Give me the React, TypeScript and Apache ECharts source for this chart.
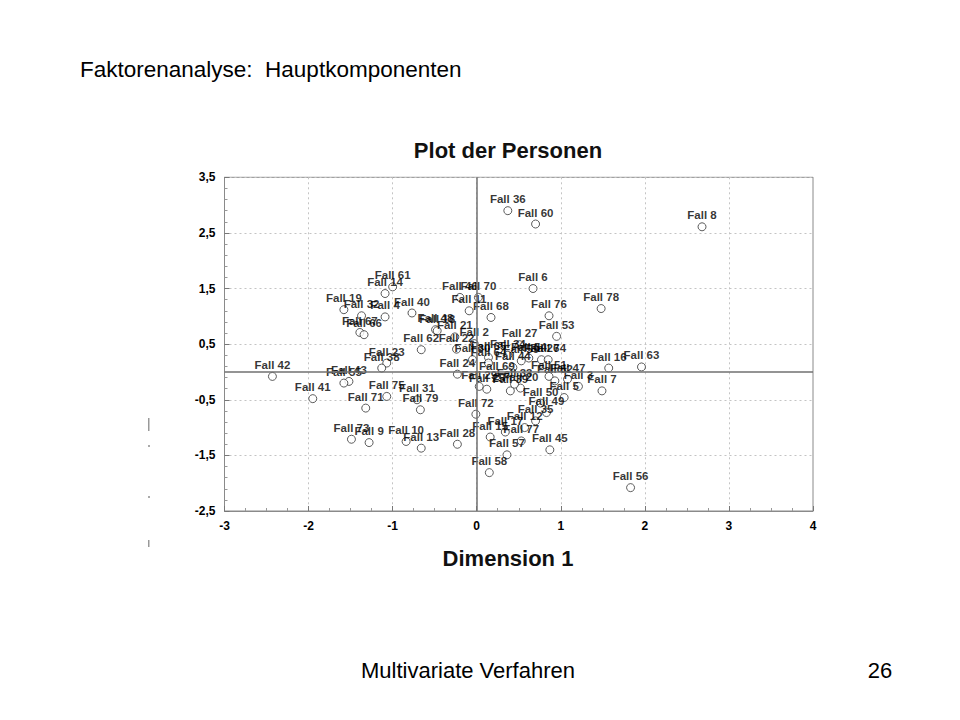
import React, { useEffect, useRef } from "react";
import * as echarts from "echarts";

const caseNames = [
  "Fall 36", "Fall 60", "Fall 8", "Fall 6", "Fall 78", "Fall 76", "Fall 68", "Fall 53", "Fall 27", "Fall 16",
  "Fall 63", "Fall 46", "Fall 70", "Fall 11", "Fall 61", "Fall 14", "Fall 19", "Fall 32", "Fall 4", "Fall 40",
  "Fall 67", "Fall 66", "Fall 48", "Fall 18", "Fall 21", "Fall 2", "Fall 62", "Fall 22", "Fall 23", "Fall 38",
  "Fall 42", "Fall 41", "Fall 43", "Fall 55", "Fall 71", "Fall 75", "Fall 31", "Fall 79", "Fall 73", "Fall 9",
  "Fall 10", "Fall 13", "Fall 28", "Fall 24", "Fall 72", "Fall 58", "Fall 15", "Fall 57", "Fall 77", "Fall 45",
  "Fall 56", "Fall 65", "Fall 64", "Fall 30", "Fall 34", "Fall 54", "Fall 59", "Fall 26", "Fall 74", "Fall 44",
  "Fall 29", "Fall 25", "Fall 39", "Fall 20", "Fall 33", "Fall 69", "Fall 51", "Fall 52", "Fall 47", "Fall 3",
  "Fall 5", "Fall 7", "Fall 50", "Fall 49", "Fall 35", "Fall 12", "Fall 17",
];

const dim1 = [
  0.37, 0.70, 2.68, 0.67, 1.48, 0.86, 0.17, 0.95, 0.51, 1.57,
  1.96, -0.20, 0.02, -0.09, -1.00, -1.09, -1.58, -1.37, -1.09, -0.77,
  -1.39, -1.34, -0.49, -0.47, -0.26, -0.03, -0.66, -0.24, -1.07, -1.13,
  -2.43, -1.95, -1.52, -1.58, -1.32, -1.07, -0.71, -0.67, -1.49, -1.28,
  -0.84, -0.66, -0.23, -0.23, -0.01, 0.15, 0.16, 0.36, 0.53, 0.87,
  1.83, 0.14, 0.14, -0.05, 0.37, 0.62, 0.53, 0.77, 0.85, 0.43,
  0.03, 0.12, 0.40, 0.52, 0.45, 0.24, 0.86, 0.93, 1.08, 1.21,
  1.04, 1.49, 0.76, 0.83, 0.70, 0.57, 0.34,
];

const dim2 = [
  2.90, 2.66, 2.61, 1.50, 1.14, 1.01, 0.98, 0.64, 0.49, 0.07,
  0.09, 1.34, 1.34, 1.10, 1.53, 1.41, 1.12, 1.01, 0.99, 1.06,
  0.71, 0.67, 0.76, 0.74, 0.63, 0.51, 0.40, 0.41, 0.16, 0.07,
  -0.08, -0.48, -0.17, -0.20, -0.65, -0.44, -0.50, -0.68, -1.21, -1.27,
  -1.25, -1.37, -1.30, -0.04, -0.76, -1.81, -1.17, -1.49, -1.24, -1.40,
  -2.08, 0.26, 0.16, 0.22, 0.30, 0.25, 0.20, 0.22, 0.22, 0.08,
  -0.26, -0.31, -0.34, -0.29, -0.22, -0.10, -0.08, -0.16, -0.13, -0.26,
  -0.46, -0.34, -0.56, -0.73, -0.88, -1.00, -1.08,
];

const slideTitle = "Faktorenanalyse:  Hauptkomponenten";
const plotTitle = "Plot der Personen";
const xAxisTitle = "Dimension 1";
const footerText = "Multivariate Verfahren";
const pageNumber = "26";

export default function App() {
  const ref = useRef<HTMLDivElement>(null);

  useEffect(() => {
    if (!ref.current) return;
    const chart = echarts.init(ref.current, null, { renderer: "svg" });
    const data = caseNames.map((n, i) => ({ name: n, value: [dim1[i], dim2[i]] }));
    const font = "Arial, 'Liberation Sans', Helvetica, sans-serif";
    chart.setOption({
      animation: false,
      backgroundColor: "#ffffff",
      grid: {
        left: 224.5,
        top: 177.3,
        width: 588.5,
        height: 333.7,
        show: true,
        borderColor: "#8a8a8a",
        borderWidth: 1,
        backgroundColor: "transparent",
      },
      xAxis: {
        type: "value",
        min: -3,
        max: 4,
        interval: 1,
        axisLine: { show: true, onZero: false, lineStyle: { color: "#8a8a8a" } },
        axisTick: { show: true, inside: true, length: 5, lineStyle: { color: "#777" } },
        minorTick: { show: true, splitNumber: 4, length: 3, lineStyle: { color: "#999" } },
        axisLabel: { color: "#000", fontSize: 12, fontWeight: "bold", fontFamily: font, margin: 9 },
        splitLine: { show: true, lineStyle: { color: "#c4c4c4", type: [2, 3], width: 1 } },
      },
      yAxis: {
        type: "value",
        min: -2.5,
        max: 3.5,
        interval: 1,
        axisLine: { show: true, onZero: false, lineStyle: { color: "#8a8a8a" } },
        axisTick: { show: true, inside: true, length: 5, lineStyle: { color: "#777" } },
        minorTick: { show: true, splitNumber: 5, length: 3, lineStyle: { color: "#999" } },
        axisLabel: {
          color: "#000",
          fontSize: 12,
          fontWeight: "bold",
          fontFamily: font,
          margin: 9,
          formatter: (v: number) => String(v).replace(".", ","),
        },
        splitLine: { show: true, lineStyle: { color: "#c4c4c4", type: [2, 3], width: 1 } },
      },
      series: [
        {
          type: "scatter",
          data,
          symbol: "circle",
          symbolSize: 8,
          itemStyle: { color: "#ffffff", borderColor: "#333", borderWidth: 1 },
          label: {
            show: true,
            position: "top",
            distance: 1,
            formatter: "{b}",
            color: "#000",
            fontSize: 11.5,
            fontWeight: "bold",
            fontFamily: font,
          },
          markLine: {
            silent: true,
            symbol: "none",
            label: { show: false },
            lineStyle: { color: "#707070", type: "solid", width: 1.5 },
            data: [{ xAxis: 0 }, { yAxis: 0 }],
          },
          z: 3,
        },
      ],
      graphic: [
        {
          type: "text",
          left: 80,
          top: 58,
          style: { text: slideTitle, fontSize: 22.5, fontFamily: font, fill: "#000" },
        },
        {
          type: "text",
          x: 508,
          y: 150,
          style: {
            text: plotTitle,
            fontSize: 22,
            fontWeight: "bold",
            fontFamily: font,
            fill: "#111",
            align: "center",
            verticalAlign: "middle",
          },
        },
        {
          type: "text",
          x: 508,
          y: 558,
          style: {
            text: xAxisTitle,
            fontSize: 22,
            fontWeight: "bold",
            fontFamily: font,
            fill: "#111",
            align: "center",
            verticalAlign: "middle",
          },
        },
        {
          type: "text",
          x: 468,
          y: 670,
          style: {
            text: footerText,
            fontSize: 22,
            fontFamily: font,
            fill: "#000",
            align: "center",
            verticalAlign: "middle",
          },
        },
        {
          type: "text",
          x: 880,
          y: 670,
          style: {
            text: pageNumber,
            fontSize: 22,
            fontFamily: font,
            fill: "#000",
            align: "center",
            verticalAlign: "middle",
          },
        },
        { type: "rect", shape: { x: 148, y: 418, width: 1.5, height: 13 }, style: { fill: "#999" } },
        { type: "rect", shape: { x: 148, y: 445, width: 2, height: 2 }, style: { fill: "#aaa" } },
        { type: "rect", shape: { x: 148, y: 496, width: 2, height: 2 }, style: { fill: "#aaa" } },
        { type: "rect", shape: { x: 148, y: 540, width: 1.5, height: 7 }, style: { fill: "#999" } },
      ],
    });
    return () => chart.dispose();
  }, []);

  return (
    <div
      ref={ref}
      style={{ position: "fixed", left: 0, top: 0, width: 960, height: 720, background: "#fff" }}
    />
  );
}
